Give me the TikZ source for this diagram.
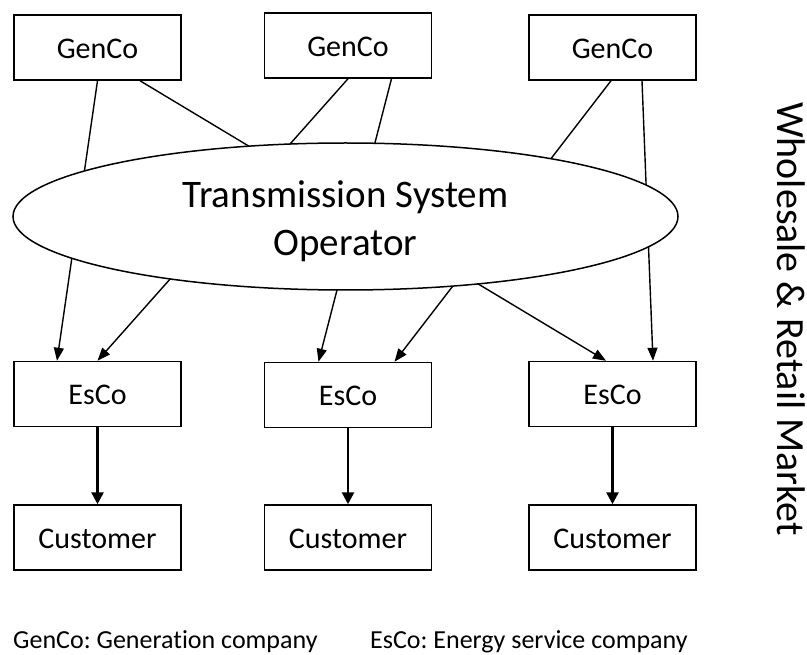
\documentclass[tikz,border=0pt]{standalone}
\usepackage{fontspec}
\setmainfont{Carlito}[Ligatures=NoCommon]
\usepackage{tikz}
\usetikzlibrary{arrows.meta,positioning,shapes.geometric}
\frenchspacing

\begin{document}
\begin{tikzpicture}[x=1pt,y=-1pt,font=\fontsize{30}{36}\selectfont,
  box/.style={draw,line width=1.5pt,minimum width=167pt,minimum height=65pt,inner sep=0pt,text height=26pt,text depth=4pt},
  ln/.style={line width=1.4pt,-{Triangle[length=13pt,width=10pt]}},
  feed/.style={line width=2.6pt,-{Triangle[length=12pt,width=12pt]}}]
  \useasboundingbox (0,0) rectangle (807,655);
  \node[box] (g1) at (97.5,47.5) {GenCo};
  \node[box,right=82pt of g1,yshift=2pt] (g2) {GenCo};
  \node[box,right=96pt of g2,yshift=-2pt] (g3) {GenCo};
  \node[box,below=280pt of g1] (e1) {EsCo};
  \node[box,below=283pt of g2] (e2) {EsCo};
  \node[box,below=280pt of g3] (e3) {EsCo};
  \node[box,below=77pt of e1] (c1) {Customer};
  \node[box,below=76pt of e2] (c2) {Customer};
  \node[box,below=77pt of e3] (c3) {Customer};
  \draw[ln] (g1.south) -- ([xshift=-40.5pt]e1.north);
  \draw[ln] ([xshift=42.5pt]g1.south) -- ([xshift=-6.5pt]e3.north);
  \draw[ln] (g2.south) -- (e1.north);
  \draw[ln] ([xshift=43.5pt]g2.south) -- ([xshift=-29.5pt]e2.north);
  \draw[ln] ([xshift=-1.5pt]g3.south) -- ([xshift=46.5pt]e2.north);
  \draw[ln] ([xshift=29.5pt]g3.south) -- ([xshift=40.5pt]e3.north);
  \foreach \i in {1,2,3} \draw[feed] (e\i) -- (c\i);
  \node[draw,ellipse,fill=white,line width=1.5pt,inner sep=0pt,minimum width=665pt,minimum height=147pt] (tso) at (345.5,216.5) {};
  \node[align=center,font=\fontsize{39}{48}\selectfont] (tsotxt) at ([yshift=-5pt]tso.center) {Transmission System\\Operator};
  \node[rotate=-90,font=\fontsize{40}{48}\selectfont] (mkt) at (791,319) {Wholesale \& Retail Market};
  \node[anchor=base west,inner sep=0pt,font=\fontsize{26}{31}\selectfont] (lg) at (13,648) {GenCo: Generation company};
  \node[anchor=base west,inner sep=0pt,font=\fontsize{26}{31}\selectfont] (le) at (370,648) {EsCo: Energy service company};
\end{tikzpicture}
\end{document}
